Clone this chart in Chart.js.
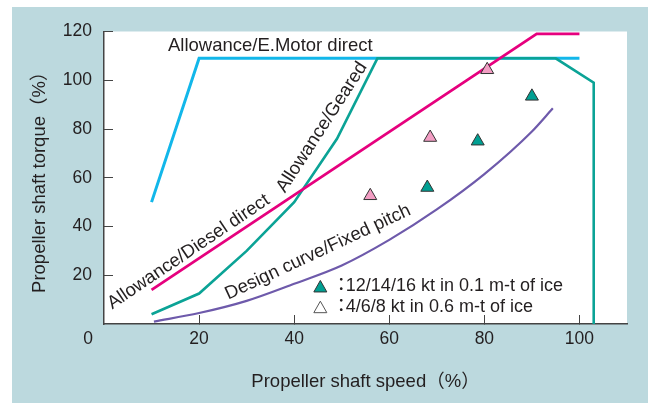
<!DOCTYPE html>
<html>
<head>
<meta charset="utf-8">
<script src="https://cdn.jsdelivr.net/npm/chart.js@4.4.1/dist/chart.umd.min.js"></script>
<style>
  html, body { margin: 0; padding: 0; background: #fff; }
  #wrap { width: 651px; height: 403px; }
</style>
</head>
<body>
<div id="wrap"><canvas id="torqueChart" width="651" height="403"></canvas></div>
<script>
// values (speed %, torque %)
const eMotorX = [10, 20, 100];
const eMotorY = [50, 109, 109];
const gearedX = [10, 20, 30, 40, 49, 57.5, 95, 103, 103];
const gearedY = [4, 12.5, 30, 50, 76, 109, 109, 99, 0];
const dieselX = [10, 91, 100];
const dieselY = [14, 119, 119];
const designX = [10.5, 20, 30, 40, 50, 60, 70, 80, 90, 94.4];
const designY = [1, 4.5, 9.5, 16.5, 24, 34.5, 47, 61.5, 79, 88.5];
const thinIceX = [68, 78.6, 90];     // 12/14/16 kt, 0.1 m
const thinIceY = [56, 75, 93.4];
const thickIceX = [56, 68.6, 80.6];  // 4/6/8 kt, 0.6 m
const thickIceY = [52.6, 76.5, 104.3];
const xTicks = [20, 40, 60, 80, 100];
const yTicks = [20, 40, 60, 80, 100, 120];

const FONT = "'Liberation Sans', Arial, 'Noto Sans CJK JP', sans-serif";
const INK = '#231f20';

function pts(xs, ys) {
    return xs.map((x, i) => ({ x: x, y: ys[i] }));
}

// curve labels, placed in data units
const curveLabels = [
    { text: 'Allowance/E.Motor direct', x: 13.46, y: 114.1, angle: 0, align: 'left' },
    { text: 'Allowance/Geared', x: 45.85, y: 80.7, angle: -57, align: 'center' },
    { text: 'Allowance/Diesel direct', x: 17.8, y: 29.6, angle: -34, align: 'center' },
    { text: 'Design curve/Fixed pitch', x: 45, y: 29.4, angle: -25, align: 'center' }
];

const panelPlugin = {
    id: 'panel',
    beforeDraw(chart) {
        const ctx = chart.ctx;
        const a = chart.chartArea;
        ctx.save();
        ctx.fillStyle = '#ffffff';
        ctx.fillRect(0, 0, chart.width, chart.height);
        ctx.fillStyle = '#bcd9de';
        ctx.fillRect(12, 7, 636, chart.height - 7);
        ctx.fillStyle = '#ffffff';
        ctx.fillRect(a.left, a.top, a.right - a.left, a.bottom - a.top);
        ctx.restore();
    },
    afterDraw(chart) {
        const ctx = chart.ctx;
        const xs = chart.scales.x;
        const ys = chart.scales.y;
        const a = chart.chartArea;
        ctx.save();
        ctx.fillStyle = INK;
        ctx.textBaseline = 'middle';

        // shared origin label
        ctx.font = '17.5px ' + FONT;
        ctx.textAlign = 'right';
        ctx.fillText('0', a.left - 11, a.bottom + 15.5);

        ctx.font = '18.5px ' + FONT;
        curveLabels.forEach(l => {
            ctx.save();
            ctx.translate(xs.getPixelForValue(l.x), ys.getPixelForValue(l.y));
            ctx.rotate(l.angle * Math.PI / 180);
            ctx.textAlign = l.align;
            ctx.fillText(l.text, 0, 0);
            ctx.restore();
        });

        // key for the triangles
        const kx = xs.getPixelForValue(45.5);
        const rows = [
            { y: ys.getPixelForValue(15.4), fill: '#009f92', text: '12/14/16 kt in 0.1 m-t of ice' },
            { y: ys.getPixelForValue(6.9), fill: null, text: '4/6/8 kt in 0.6 m-t of ice' }
        ];
        rows.forEach(r => {
            ctx.beginPath();
            ctx.moveTo(kx, r.y - 6);
            ctx.lineTo(kx + 6.5, r.y + 5.5);
            ctx.lineTo(kx - 6.5, r.y + 5.5);
            ctx.closePath();
            if (r.fill) {
                ctx.fillStyle = r.fill;
                ctx.fill();
                ctx.strokeStyle = '#333';
            } else {
                ctx.strokeStyle = '#555';
            }
            ctx.lineWidth = 1;
            ctx.stroke();
            ctx.fillStyle = INK;
            ctx.font = '18px ' + FONT;
            ctx.textAlign = 'center';
            ctx.fillText('：', kx + 21, r.y);
            ctx.textAlign = 'left';
            ctx.fillText(r.text, kx + 25.5, r.y);
        });
        ctx.restore();
    }
};

const lineStyle = { showLine: true, pointRadius: 0, fill: false, tension: 0 };

new Chart(document.getElementById('torqueChart').getContext('2d'), {
    type: 'scatter',
    data: {
        datasets: [
            Object.assign({ label: 'E.Motor direct', data: pts(eMotorX, eMotorY),
                borderColor: '#12b7ea', borderWidth: 3, order: 6 }, lineStyle),
            Object.assign({ label: 'Geared', data: pts(gearedX, gearedY),
                borderColor: '#0ba396', borderWidth: 2.6, order: 5 }, lineStyle),
            Object.assign({ label: 'Diesel direct', data: pts(dieselX, dieselY),
                borderColor: '#e6007e', borderWidth: 2.8, order: 4 }, lineStyle),
            Object.assign({ label: 'Design curve', data: pts(designX, designY),
                borderColor: '#6e5aab', borderWidth: 2.2, order: 3 }, lineStyle,
                { cubicInterpolationMode: 'monotone' }),
            { label: '12/14/16 kt', data: pts(thinIceX, thinIceY), pointStyle: 'triangle',
              pointRadius: 7.5, backgroundColor: '#009f92', borderColor: '#333', borderWidth: 1, order: 2 },
            { label: '4/6/8 kt', data: pts(thickIceX, thickIceY), pointStyle: 'triangle',
              pointRadius: 7.5, backgroundColor: '#f29dc3', borderColor: '#333', borderWidth: 1, order: 1 }
        ]
    },
    options: {
        responsive: false,
        animation: false,
        devicePixelRatio: 1,
        layout: { padding: { left: 0, top: 28, right: 24, bottom: 0 } },
        plugins: { legend: { display: false }, tooltip: { enabled: false } },
        scales: {
            x: {
                type: 'linear', min: 0, max: 110,
                afterBuildTicks: s => { s.ticks = xTicks.map(v => ({ value: v })); },
                afterFit: s => { s.height = 79; },
                border: { display: true, color: '#444', width: 1.5 },
                grid: { drawOnChartArea: false, drawTicks: true, tickLength: -9, color: '#444', lineWidth: 1 },
                ticks: { padding: 14, color: INK, font: { family: FONT, size: 17.5 } },
                title: { display: true, text: 'Propeller shaft speed（%）', color: INK,
                         font: { family: FONT, size: 18.5 }, padding: { top: 0, bottom: 10 } }
            },
            y: {
                type: 'linear', min: 0, max: 120,
                afterBuildTicks: s => { s.ticks = yTicks.map(v => ({ value: v })); },
                afterFit: s => { s.width = 104; },
                border: { display: true, color: '#444', width: 1.5 },
                grid: { drawOnChartArea: false, drawTicks: true, tickLength: -9, color: '#444', lineWidth: 1 },
                ticks: { padding: 21, color: INK, font: { family: FONT, size: 17.5 } },
                title: { display: true, text: 'Propeller shaft torque（%）', color: INK,
                         font: { family: FONT, size: 18.5 }, padding: { top: 29, bottom: 0 } }
            }
        }
    },
    plugins: [panelPlugin]
});
</script>
</body>
</html>
